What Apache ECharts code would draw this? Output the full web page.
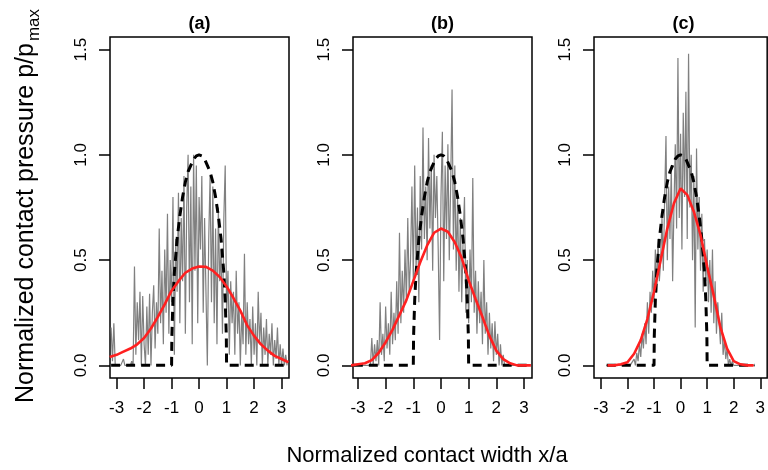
<!DOCTYPE html>
<html><head><meta charset="utf-8">
<script src="https://cdn.jsdelivr.net/npm/echarts@6/dist/echarts.min.js"></script>
<style>html,body{margin:0;padding:0;background:#fff}#c{width:768px;height:470px}</style>
</head><body><div id="c"></div>
<script>
const panelTitles = ['(a)', '(b)', '(c)'];
const xTicks = [-3, -2, -1, 0, 1, 2, 3];
const yTicks = [0, 0.5, 1, 1.5];

// Gray measured pressure, one value every 0.05 in x/a, starting at grayStart
const grayStart = [-3.2, -3.15, -2.8];
const grayStep = 0.05;
const grayA = [
  0.18, 0.02, 0.20, 0.0,
  0, 0, 0, 0, 0, 0.03, 0, 0, 0, 0, 0, 0.02, 0,
  0.47, 0.05, 0.30, 0.12, 0.35, 0.0, 0.33, 0.10,
  0.0, 0.28, 0.05, 0.34, 0.0, 0.25, 0.38, 0.08,
  0.30, 0.15, 0.65, 0.20, 0.45, 0.10, 0.55, 0.25,
  0.72, 0.15, 0.50, 0.30, 0.80, 0.05, 0.60, 0.35,
  0.82, 0.20, 0.70, 0.40, 0.90, 0.15, 0.75, 1.00,
  0.30, 0.85, 0.10, 1.00, 0.45, 0.95, 0.20, 0.80,
  0.55, 0.90, 0.25, 0.70, 0.35, 0.0, 0.60, 0.90,
  0.30, 0.85, 0.20, 0.65, 0.10, 0.75, 0.40, 0.55,
  0.15, 0.70, 0.95, 0.25, 0.45, 0.05, 0.40, 0.20,
  0.35, 0.05, 0.45, 0.15, 0.30, 0.0, 0.25, 0.10,
  0.53, 0.05, 0.30, 0.10, 0.22, 0.0, 0.28, 0.05,
  0.20, 0.0, 0.35, 0.10, 0.25, 0.0, 0.18, 0.05,
  0.22, 0.0, 0.15, 0.05, 0.20, 0.0, 0.12, 0.03,
  0.18, 0.0, 0.10, 0.0, 0.08, 0.0, 0.05, 0.0
];
const grayB = [
  0, 0, 0, 0, 0, 0, 0, 0, 0, 0, 0, 0, 0,
  0.13, 0.0, 0.10, 0.02, 0.12, 0.0, 0.30, 0.05,
  0.15, 0.02, 0.28, 0.08, 0.20, 0.05, 0.35, 0.10,
  0.25, 0.12, 0.40, 0.15, 0.63, 0.20, 0.45, 0.25,
  0.55, 0.30, 0.70, 0.35, 0.50, 0.85, 0.40, 0.95,
  0.45, 0.75, 0.30, 0.90, 0.55, 1.13, 0.60, 0.85,
  0.50, 1.08, 0.65, 0.95, 0.45, 1.00, 0.70, 0.90,
  0.55, 0.12, 0.80, 1.11, 0.40, 0.95, 0.60, 1.05,
  0.50, 0.85, 1.31, 0.55, 0.95, 0.45, 0.80, 0.35,
  0.70, 0.30, 0.60, 0.80, 0.25, 0.50, 0.20, 0.55,
  0.30, 0.89, 0.25, 0.45, 0.15, 0.40, 0.20, 0.35,
  0.10, 0.50, 0.15, 0.30, 0.05, 0.25, 0.08, 0.20,
  0.02, 0.21, 0.05, 0.15, 0.0, 0.10, 0.0, 0.05,
  0, 0, 0, 0, 0, 0, 0, 0,
  0, 0, 0, 0, 0, 0, 0, 0, 0, 0
];
const grayC = [
  0, 0, 0, 0, 0, 0, 0, 0, 0, 0, 0, 0, 0, 0, 0, 0, 0, 0, 0, 0, 0.02,
  0.03, 0.0, 0.06, 0.02, 0.10, 0.04, 0.15, 0.08,
  0.20, 0.10, 0.30, 0.15, 0.35, 0.25, 0.45, 0.30,
  0.55, 0.35, 0.60, 0.40, 0.50, 0.70, 0.45, 0.80,
  1.09, 0.50, 0.85, 0.60, 0.95, 0.40, 0.75, 1.05,
  0.65, 1.46, 0.70, 1.10, 0.55, 1.20, 0.80, 1.30,
  0.60, 1.48, 0.75, 1.00, 0.50, 0.90, 0.18, 1.03,
  0.55, 0.80, 0.45, 0.72, 0.35, 0.60, 0.40, 0.55,
  0.30, 0.50, 0.25, 0.55, 0.20, 0.40, 0.15, 0.30,
  0.20, 0.10, 0.25, 0.05, 0.12, 0.03, 0.08, 0.0,
  0.03, 0, 0.02, 0, 0, 0, 0, 0, 0, 0, 0, 0, 0, 0, 0, 0, 0, 0, 0, 0
];

// Hertzian (black dashed) profile
const hertzX = [-1, -0.99, -0.95, -0.9, -0.8, -0.7, -0.6, -0.5, -0.4, -0.3, -0.2, -0.1, 0,
                 0.1, 0.2, 0.3, 0.4, 0.5, 0.6, 0.7, 0.8, 0.9, 0.95, 0.99, 1];
const hertzY = [0, 0.14, 0.31, 0.44, 0.6, 0.71, 0.8, 0.87, 0.92, 0.95, 0.98, 0.995, 1,
                0.995, 0.98, 0.95, 0.92, 0.87, 0.8, 0.71, 0.6, 0.44, 0.31, 0.14, 0];
const hertzEnds = [[-3.2, 3.25], [-3.15, 3.25], [-2.78, 2.78]];

// Red (fitted) curves
const redXab = [-3.25, -3, -2.75, -2.5, -2.25, -2, -1.75, -1.5, -1.25, -1, -0.75, -0.5, -0.25, 0,
                0.25, 0.5, 0.75, 1, 1.25, 1.5, 1.75, 2, 2.25, 2.5, 2.75, 3, 3.25];
const redA = [0.04, 0.05, 0.065, 0.08, 0.10, 0.13, 0.175, 0.23, 0.29, 0.355, 0.40, 0.44, 0.46, 0.47,
              0.468, 0.45, 0.42, 0.375, 0.32, 0.26, 0.19, 0.14, 0.10, 0.07, 0.045, 0.03, 0.015];
const redB = [0.0, 0.005, 0.01, 0.025, 0.06, 0.11, 0.17, 0.24, 0.31, 0.40, 0.49, 0.57, 0.63, 0.65,
              0.635, 0.585, 0.51, 0.405, 0.315, 0.23, 0.14, 0.07, 0.03, 0.01, 0.0, 0.0, 0.0];
const redXc = [-2.75, -2.5, -2.25, -2, -1.75, -1.5, -1.25, -1, -0.75, -0.5, -0.25, 0,
               0.25, 0.5, 0.75, 1, 1.25, 1.5, 1.75, 2, 2.25, 2.5, 2.75];
const redC = [0.0, 0.0, 0.005, 0.015, 0.055, 0.12, 0.22, 0.35, 0.50, 0.65, 0.77, 0.84,
              0.81, 0.73, 0.62, 0.47, 0.33, 0.18, 0.08, 0.02, 0.005, 0.0, 0.0];

const grays = [grayA, grayB, grayC];
const reds = [[redXab, redA], [redXab, redB], [redXc, redC]];
const xLims = [[-3.24, 3.27], [-3.18, 3.29], [-3.26, 3.26]];
const gridLefts = [110, 353, 594];

const FONT = 'Liberation Sans, Arial, sans-serif';
const grids = [], xAxes = [], yAxes = [], series = [], graphics = [];

for (let i = 0; i < 3; i++) {
  grids.push({left: gridLefts[i], top: 37, width: 179, height: 341, show: true,
              borderColor: '#000', borderWidth: 1.5, backgroundColor: 'transparent'});
  xAxes.push({
    type: 'value', gridIndex: i, min: xLims[i][0], max: xLims[i][1], position: 'bottom',
    axisLine: {show: false, onZero: false}, splitLine: {show: false},
    axisTick: {show: true, customValues: xTicks, length: 11, lineStyle: {color: '#000', width: 1.5}},
    axisLabel: {customValues: xTicks, fontSize: 17, color: '#000', fontFamily: FONT, margin: 22}
  });
  yAxes.push({
    type: 'value', gridIndex: i, min: -0.06, max: 1.56, position: 'left',
    axisLine: {show: false, onZero: false}, splitLine: {show: false},
    axisTick: {show: true, customValues: yTicks, length: 11, lineStyle: {color: '#000', width: 1.5}},
    axisLabel: {customValues: yTicks, fontSize: 17, color: '#000', fontFamily: FONT, margin: 20,
                rotate: 90, formatter: v => v.toFixed(1)}
  });
  const g = grays[i];
  series.push({
    type: 'line', xAxisIndex: i, yAxisIndex: i, showSymbol: false, silent: true,
    data: g.map((v, k) => [+(grayStart[i] + k * grayStep).toFixed(3), v]),
    lineStyle: {color: '#808080', width: 1.2}, z: 1
  });
  const hd = [[hertzEnds[i][0], 0]].concat(hertzX.map((x, k) => [x, hertzY[k]]), [[hertzEnds[i][1], 0]]);
  series.push({
    type: 'line', xAxisIndex: i, yAxisIndex: i, showSymbol: false, silent: true, data: hd,
    lineStyle: {color: '#000', width: 3, type: [9, 6]}, z: 2
  });
  series.push({
    type: 'line', xAxisIndex: i, yAxisIndex: i, showSymbol: false, silent: true,
    data: reds[i][0].map((x, k) => [x, reds[i][1][k]]),
    lineStyle: {color: '#ff2020', width: 2.6}, z: 3
  });
  graphics.push({type: 'text', x: gridLefts[i] + 89.5, y: 24,
    style: {text: panelTitles[i], font: 'bold 18px ' + FONT, fill: '#000', align: 'center', verticalAlign: 'middle'}});
}

graphics.push({type: 'text', x: 26, y: 223, rotation: Math.PI / 2,
  style: {text: 'Normalized contact pressure p/p', font: '25px ' + FONT, fill: '#000', align: 'center', verticalAlign: 'middle'}});
graphics.push({type: 'text', x: 34, y: 25, rotation: Math.PI / 2,
  style: {text: 'max', font: '17px ' + FONT, fill: '#000', align: 'center', verticalAlign: 'middle'}});
graphics.push({type: 'text', x: 427, y: 456,
  style: {text: 'Normalized contact width x/a', font: '22px ' + FONT, fill: '#000', align: 'center', verticalAlign: 'middle'}});

const chart = echarts.init(document.getElementById('c'), null, {renderer: 'canvas'});
chart.setOption({
  animation: false,
  backgroundColor: '#fff',
  grid: grids, xAxis: xAxes, yAxis: yAxes, series: series, graphic: graphics
});
</script>
</body></html>
